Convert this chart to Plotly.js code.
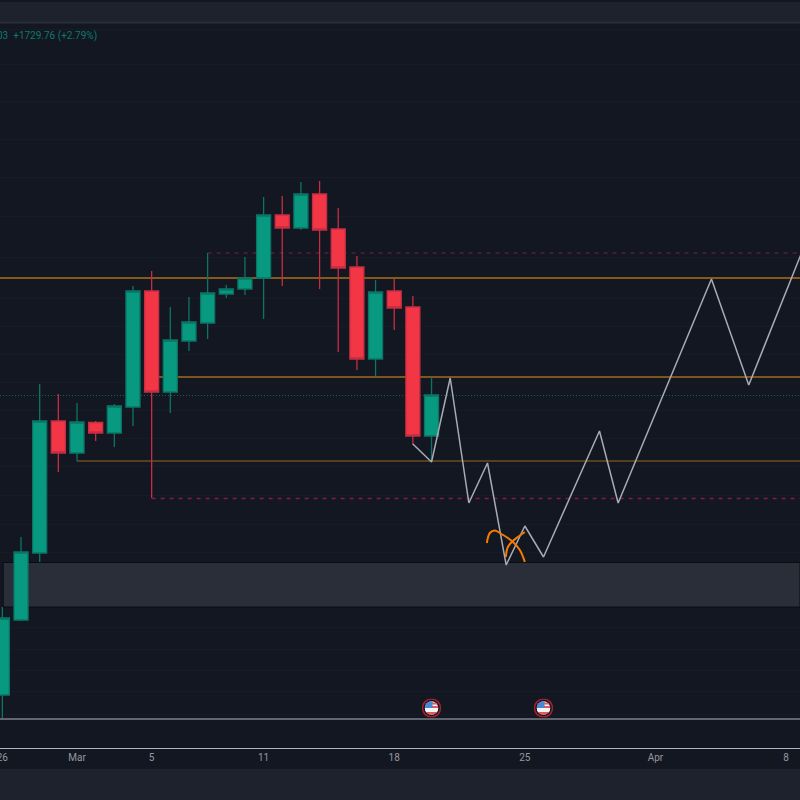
<!DOCTYPE html>
<html>
<head>
<meta charset="utf-8">
<script src="https://cdn.plot.ly/plotly-3.0.1.min.js"></script>
<style>html,body{margin:0;padding:0;background:#131722}#chart{width:800px;height:800px}</style>
</head>
<body>
<div id="chart"></div>
<script>
const dates = ["2024-02-26","2024-02-27","2024-02-28","2024-02-29","2024-03-01","2024-03-02","2024-03-03","2024-03-04","2024-03-05","2024-03-06","2024-03-07","2024-03-08","2024-03-09","2024-03-10","2024-03-11","2024-03-12","2024-03-13","2024-03-14","2024-03-15","2024-03-16","2024-03-17","2024-03-18","2024-03-19","2024-03-20"];
const opens  = [52200,55200,57880,63160,61880,63100,62680,63720,68360,64320,66360,67080,68240,68440,68880,71400,70880,72240,70840,69320,65640,68360,67720,62560];
const highs  = [55720,58520,64640,64240,63880,63160,63840,68560,69160,67720,68120,69880,68600,69720,72120,72160,72720,72760,71680,69760,68800,68840,68160,64920];
const lows   = [51280,55160,57520,61120,61560,62360,62120,62960,60080,63480,65960,66440,68080,68200,67240,68560,70800,68440,65920,65200,64960,66800,62200,61520];
const closes = [55280,57920,63160,61880,63120,62680,63760,68360,64320,66400,67120,68280,68440,68880,71400,70880,72240,70800,69280,65640,68320,67680,62560,64200];

const pathDates = ["2024-03-19","2024-03-20","2024-03-21","2024-03-22","2024-03-23","2024-03-24","2024-03-25","2024-03-26","2024-03-29","2024-03-30","2024-04-04","2024-04-06","2024-04-09"];
const pathValues = [62240,61520,64880,59880,61480,57400,58960,57720,62760,59880,68840,64600,70200];

const arcADates = ["2024-03-22 23:08","2024-03-23 03:00","2024-03-23 09:24","2024-03-23 15:50","2024-03-24 07:16","2024-03-24 17:34","2024-03-25 00:00"];
const arcAValues = [58280,58680,58780,58680,58360,58000,57520];
const arcBDates = ["2024-03-23 23:34","2024-03-24 02:08","2024-03-24 08:34","2024-03-24 15:00","2024-03-25 00:00"];
const arcBValues = [57720,58120,58360,58520,58720];

const tickDates = ["2024-02-26","2024-03-01","2024-03-05","2024-03-11","2024-03-18","2024-03-25","2024-04-01","2024-04-08"];
const tickLabels = ["26","Mar","5","11","18","25","Apr","8"];
const gridValues = [78840,77440,75960,74440,72920,71360,69720,68080,66960,65840,64720,63600,62480,61360,60200,59040,57920,54920,54040,53200,52360,51440];

const xStart = "2024-02-25 20:58";
const xEnd = "2024-04-08 17:54";
const yMin = 50080, yMax = 79040;

const resistanceA = 68880, resistanceB = 64920, supportC = 61560;
const dottedLast = 64180;
const dashUpper = 69880, dashLower = 60060;
const bottomLine = 51240;
const zoneTop = 57500, zoneBottom = 55720, zoneStart = "2024-02-26 01:00";
const flagDates = ["2024-03-20","2024-03-26"];
const flagValue = 51680;
const legendText = "03\u00a0\u00a0+1729.76 (+2.79%)";

const flagSvg = `<svg xmlns="http://www.w3.org/2000/svg" width="38" height="38" viewBox="0 0 38 38"><circle cx="19" cy="19" r="18" fill="#131722" stroke="#a8202f" stroke-width="3"/><clipPath id="c"><circle cx="19" cy="19" r="13.5"/></clipPath><g clip-path="url(#c)"><rect x="4" y="4" width="30" height="30" fill="#f5f5f5"/><rect x="4" y="8" width="30" height="4" fill="#e4575f"/><rect x="4" y="15" width="30" height="4" fill="#e4575f"/><rect x="4" y="22" width="30" height="4" fill="#f5f5f5"/><rect x="4" y="27" width="30" height="8" fill="#e4575f"/><rect x="4" y="4" width="17" height="15" fill="#4a86d8"/></g></svg>`;
const flagUri = "data:image/svg+xml;charset=utf-8," + encodeURIComponent(flagSvg);

const candle = {
  type: "candlestick", x: dates, open: opens, high: highs, low: lows, close: closes,
  increasing: {line: {color: "#0b7565", width: 1.3}, fillcolor: "#089981"},
  decreasing: {line: {color: "#c42e42", width: 1.3}, fillcolor: "#f23645"},
  whiskerwidth: 0, hoverinfo: "skip", showlegend: false
};
const zigzag = {type: "scatter", mode: "lines", x: pathDates, y: pathValues,
  line: {color: "#a9abb3", width: 1.5}, hoverinfo: "skip", showlegend: false};
const arcA = {type: "scatter", mode: "lines", x: arcADates, y: arcAValues,
  line: {color: "#f57c00", width: 2, shape: "spline"}, hoverinfo: "skip", showlegend: false};
const arcB = {type: "scatter", mode: "lines", x: arcBDates, y: arcBValues,
  line: {color: "#f57c00", width: 2, shape: "spline"}, hoverinfo: "skip", showlegend: false};

const hline = (x0, y, color, width, dash) => ({type: "line", layer: "below", xref: "x", yref: "y",
  x0: x0, x1: xEnd, y0: y, y1: y, line: {color: color, width: width, dash: dash || "solid"}});

const shapes = [
  {type: "rect", layer: "below", xref: "x", yref: "y", x0: zoneStart, x1: xEnd, y0: zoneBottom, y1: zoneTop,
    fillcolor: "#2a2e39", line: {color: "#0b0c10", width: 1}},
  hline(xStart, dottedLast, "#12605c", 1, "1px,2px"),
  hline(xStart, resistanceA, "#85591a", 2),
  hline("2024-03-05", resistanceB, "#7e561c", 2),
  hline("2024-03-01", supportC, "#96691f", 1),
  hline("2024-03-08", dashUpper, "#7d1f4e", 1, "4px,5px"),
  hline("2024-03-05", dashLower, "#85194c", 1.4, "4px,5px"),
  hline(xStart, bottomLine, "#b2b5be", 1),
  {type: "rect", layer: "above", xref: "paper", yref: "paper", x0: 0, x1: 1, y0: 1, y1: 1 + 22/724,
    fillcolor: "#1e222d", line: {width: 0}},
  {type: "line", layer: "above", xref: "paper", yref: "paper", x0: 0, x1: 1, y0: 1 + 1.5/724, y1: 1 + 1.5/724,
    line: {color: "#2a2e39", width: 1.5}},
  {type: "rect", layer: "above", xref: "paper", yref: "paper", x0: 0, x1: 1, y0: -52/724, y1: -21/724,
    fillcolor: "#1e222d", line: {width: 0}}
];

const images = flagDates.map(d => ({source: flagUri, xref: "x", yref: "y", x: d, y: flagValue,
  sizex: 88000000, sizey: 760, xanchor: "center", yanchor: "middle", sizing: "stretch", layer: "above"}));

const layout = {
  width: 800, height: 800,
  margin: {l: 0, r: 0, t: 24, b: 52},
  paper_bgcolor: "#131722", plot_bgcolor: "#131722",
  showlegend: false, hovermode: false,
  boxgap: 0.2, boxgroupgap: 0.06,
  font: {family: "Roboto, sans-serif", color: "#9598a1"},
  xaxis: {type: "date", range: [xStart, xEnd], rangeslider: {visible: false},
    tickmode: "array", tickvals: tickDates, ticktext: tickLabels,
    showgrid: false, zeroline: false, showline: true, linecolor: "#b2b5be", linewidth: 1,
    ticks: "", ticklabeloverflow: "allow", tickfont: {family: "Roboto, sans-serif", size: 10, color: "#9598a1"}},
  yaxis: {range: [yMin, yMax], tickmode: "array", tickvals: gridValues, showticklabels: false,
    showgrid: true, gridcolor: "#171b26", gridwidth: 1, zeroline: false, showline: false, ticks: ""},
  shapes: shapes, images: images,
  annotations: [{text: legendText, xref: "paper", yref: "paper", x: 99/800, y: 1 - 11.5/724,
    xanchor: "right", yanchor: "middle", showarrow: false,
    font: {family: "Roboto, sans-serif", size: 10, color: "#0c7a69"}}]
};
Plotly.newPlot("chart", [candle, zigzag, arcA, arcB], layout, {displayModeBar: false, staticPlot: true});
</script>
</body>
</html>
